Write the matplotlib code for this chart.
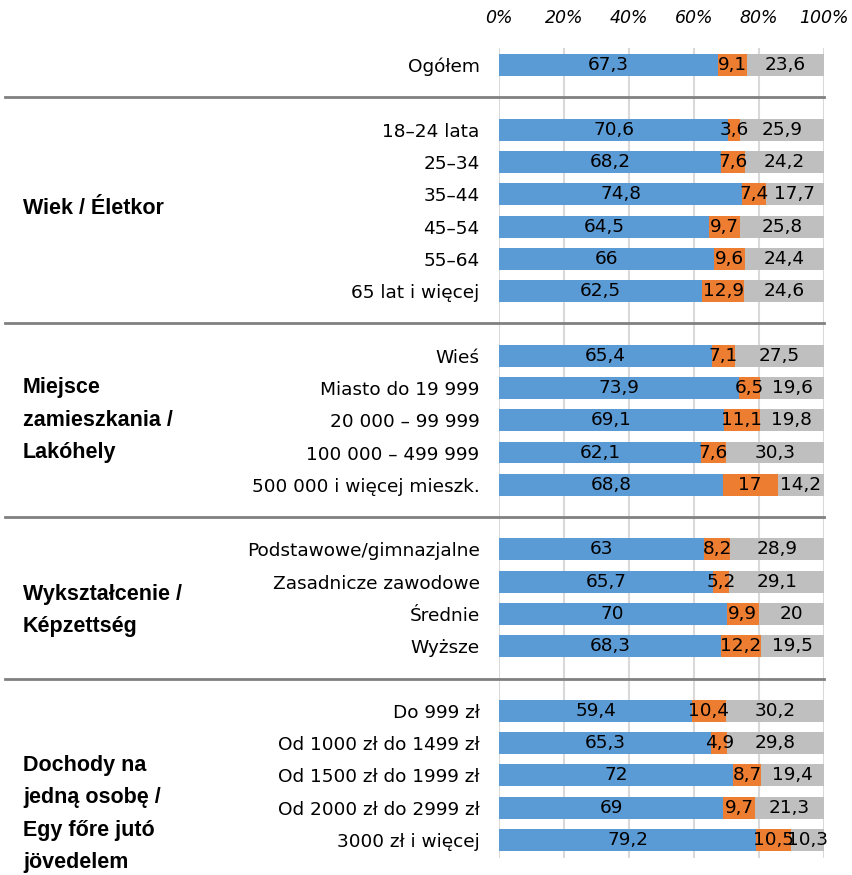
import matplotlib
matplotlib.use("Agg")
import matplotlib.pyplot as plt
from matplotlib.transforms import blended_transform_factory

categories = [
    "Ogółem",
    "18–24 lata", "25–34", "35–44", "45–54", "55–64", "65 lat i więcej",
    "Wieś", "Miasto do 19 999", "20 000 – 99 999", "100 000 – 499 999",
    "500 000 i więcej mieszk.",
    "Podstawowe/gimnazjalne", "Zasadnicze zawodowe", "Średnie", "Wyższe",
    "Do 999 zł", "Od 1000 zł do 1499 zł", "Od 1500 zł do 1999 zł",
    "Od 2000 zł do 2999 zł", "3000 zł i więcej",
]
blue_vals = [67.3, 70.6, 68.2, 74.8, 64.5, 66, 62.5, 65.4, 73.9, 69.1, 62.1,
             68.8, 63, 65.7, 70, 68.3, 59.4, 65.3, 72, 69, 79.2]
orange_vals = [9.1, 3.6, 7.6, 7.4, 9.7, 9.6, 12.9, 7.1, 6.5, 11.1, 7.6,
               17, 8.2, 5.2, 9.9, 12.2, 10.4, 4.9, 8.7, 9.7, 10.5]
gray_vals = [23.6, 25.9, 24.2, 17.7, 25.8, 24.4, 24.6, 27.5, 19.6, 19.8, 30.3,
             14.2, 28.9, 29.1, 20, 19.5, 30.2, 29.8, 19.4, 21.3, 10.3]
group_sizes = [1, 6, 5, 4, 5]
group_labels = ["", "Wiek / Életkor", "Miejsce\nzamieszkania /\nLakóhely",
                "Wykształcenie /\nKépzettség",
                "Dochody na\njedną osobę /\nEgy főre jutó\njövedelem"]
xticks = [0, 20, 40, 60, 80, 100]
xtick_labels = ["0%", "20%", "40%", "60%", "80%", "100%"]

colors = ["#5B9BD5", "#ED7D31", "#BFBFBF"]

# slot positions: separator slot between groups
positions = []
sep_positions = []
slot = 0
for gi, n in enumerate(group_sizes):
    if gi > 0:
        sep_positions.append(slot)
        slot += 1
    for _ in range(n):
        positions.append(slot)
        slot += 1
n_slots = slot

fig = plt.figure(figsize=(8.52, 8.75), dpi=100)
ax = fig.add_axes([499 / 852, 1 - 858 / 875, (824 - 499) / 852, (858 - 48) / 875])

def fmt(v):
    return f"{v:g}".replace(".", ",")

lefts = [0] * len(categories)
for vals, c in zip([blue_vals, orange_vals, gray_vals], colors):
    ax.barh(positions, vals, left=lefts, height=0.68, color=c, zorder=2)
    for p, l, v in zip(positions, lefts, vals):
        ax.text(l + v / 2, p, fmt(v), ha="center", va="center",
                fontsize=13.3, color="black", zorder=4)
    lefts = [a + b for a, b in zip(lefts, vals)]

ax.set_xlim(0, 100)
ax.set_ylim(n_slots - 1 + 0.56, -0.53)
ax.set_xticks(xticks)
ax.set_xticklabels(xtick_labels, fontstyle="italic", fontsize=12.5)
ax.xaxis.tick_top()
ax.tick_params(axis="x", length=0, pad=15)
ax.set_yticks(positions)
ax.set_yticklabels(categories, fontsize=13.3)
ax.tick_params(axis="y", length=0, pad=14)
for s in ax.spines.values():
    s.set_visible(False)
ax.grid(axis="x", color="#D9D9D9", linewidth=1.5, zorder=0)
ax.set_axisbelow(True)

trans = blended_transform_factory(fig.transFigure, ax.transData)
for sp in sep_positions:
    ax.plot([5 / 852, 824 / 852], [sp, sp], transform=trans, color="#808080",
            linewidth=2, clip_on=False, zorder=3)

group_y = [None, 4.45, 11.0, 16.9, 23.2]
for lab, gy in zip(group_labels, group_y):
    if not lab:
        continue
    fig.text(23 / 852, gy, lab, transform=trans, ha="left", va="center",
             fontsize=15.5, fontweight="bold", family="Liberation Sans",
             linespacing=1.72)

fig.savefig("out.png", dpi=100)
